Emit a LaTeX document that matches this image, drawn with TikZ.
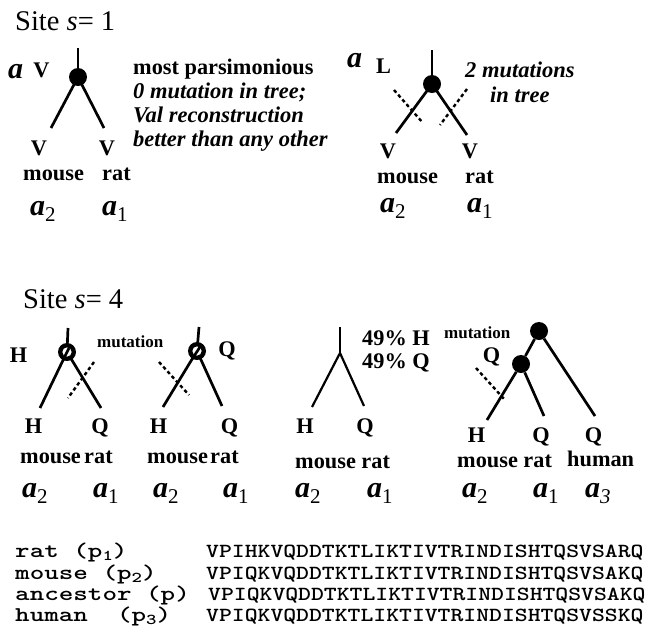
\documentclass[tikz,border=0pt]{standalone}
\usepackage{fontspec}
\setmainfont{Liberation Serif}[
  BoldFont={Liberation Serif Bold},
  ItalicFont={Liberation Serif Italic},
  BoldItalicFont={Liberation Serif Bold Italic}]
\usetikzlibrary{calc}

% variable names a, a_1, a_2 ...
\newcommand{\avar}[1]{{\fontsize{30}{30}\selectfont\bfseries\itshape a}\raisebox{-6pt}{\fontsize{21}{21}\selectfont #1}}
\newcommand{\sitehead}[1]{{\fontsize{28.5}{30}\selectfont Site \textit{s}= #1}}
\newcommand{\psub}[1]{(p\raisebox{-3pt}{\fontsize{15}{15}\selectfont #1})}
% slab-serif typewriter rows, stretched to the column width
\newcommand{\seqrow}[2]{\scalebox{#1}[1]{#2}}

\begin{document}
\begin{tikzpicture}[x=1pt,y=-1pt,
  lbl/.style={inner sep=0pt, anchor=base, font=\fontsize{22.3}{27}\selectfont\bfseries},
  lblw/.style={lbl, anchor=base west},
  itxt/.style={inner sep=0pt, anchor=base west, font=\fontsize{22.5}{27}\selectfont\bfseries\itshape},
  small/.style={inner sep=0pt, anchor=base west, font=\fontsize{17}{20}\selectfont\bfseries},
  varw/.style={inner sep=0pt, anchor=base west},
  branch/.style={line width=2.7pt},
  thinbranch/.style={line width=2.2pt},
  mutmark/.style={line width=2.4pt, dash pattern=on 3.5pt off 2.8pt},
  dot/.style={circle, fill=black, inner sep=0pt, minimum size=18pt},
  seqlbl/.style={inner sep=0pt, anchor=base west, font=\fontsize{21}{23}\selectfont\ttfamily\bfseries},
  seq/.style={inner sep=0pt, anchor=base west, font=\fontsize{20}{22}\selectfont\ttfamily\bfseries}]
\useasboundingbox (0,0) rectangle (645,638);

%% ---------------- Site s = 1 ----------------
\node[varw] (head1) at (15,30) {\sitehead{1}};

% tree: V at the root, no mutation
\coordinate (t1top) at (78,48);
\node[dot] (t1n) at (78,77) {};
\coordinate (t1l) at (51,128);
\coordinate (t1r) at (104,128);
\draw[branch] (t1top) -- (t1n.center);
\draw[branch] (t1n.center) -- (t1l);
\draw[branch] (t1n.center) -- (t1r);
\node[varw] (t1a) at (8,78) {\avar{}};
\node[lbl] (t1root) at (41.5,77) {V};
\node[lbl] (t1lv) at (39,155) {V};
\node[lbl] (t1rv) at (107,155) {V};
\node[lblw] (t1ms) at (23,180) {mouse};
\node[lblw] (t1rt) at (102,180) {rat};
\node[varw] (t1a2) at (30,215) {\avar{2}};
\node[varw] (t1a1) at (102,215) {\avar{1}};

\node[lblw] (note1) at (133,74) {most parsimonious};
\node[itxt] (note2) at (133,98) {0 mutation in tree;};
\node[itxt] (note3) at (133,122) {Val reconstruction};
\node[itxt] (note4) at (133,146) {better than any other};

% tree: L at the root, two mutations
\coordinate (t2top) at (432,50);
\node[dot] (t2n) at (432,84) {};
\coordinate (t2l) at (396,133);
\coordinate (t2r) at (467,135);
\draw[branch] (t2top) -- (t2n.center);
\draw[branch] (t2n.center) -- (t2l);
\draw[branch] (t2n.center) -- (t2r);
\coordinate (m2a) at (394,90);
\coordinate (m2b) at (423,123);
\coordinate (m2c) at (467,89);
\coordinate (m2d) at (440,125);
\draw[mutmark] (m2a) -- (m2b);
\draw[mutmark] (m2c) -- (m2d);
\node[varw] (t2a) at (347,67) {\avar{}};
\node[lbl] (t2root) at (383.5,73) {L};
\node[itxt] (t2n1) at (465,77) {2 mutations};
\node[itxt] (t2n2) at (490,102) {in tree};
\node[lbl] (t2lv) at (388,158) {V};
\node[lbl] (t2rv) at (470,158) {V};
\node[lblw] (t2ms) at (377,183) {mouse};
\node[lblw] (t2rt) at (465,183) {rat};
\node[varw] (t2a2) at (380,212) {\avar{2}};
\node[varw] (t2a1) at (467,212) {\avar{1}};

%% ---------------- Site s = 4 ----------------
\node[varw] (head4) at (23,308) {\sitehead{4}};

% tree A: H at the root, mutation on the rat branch
\coordinate (tAtop) at (68,328);
\coordinate (tAc) at (67,352);
\coordinate (tAl) at (40,408);
\coordinate (tAr) at (101,408);
\draw[branch] (tAtop) -- (tAc);
\draw[branch] (tAc) -- (tAl);
\draw[branch] (tAc) -- (tAr);
\node[dot] (tAn) at (tAc) {};
\fill[white] (tAn.center) circle (4.6pt);
\draw[branch] ($(tAn.center)+(2,-4)$) -- ($(tAn.center)!9pt!(tAl)$);
\coordinate (mAa) at (94,362);
\coordinate (mAb) at (68,398);
\draw[mutmark] (mAa) -- (mAb);
\node[lbl] (tAroot) at (18.5,362) {H};
\node[small] (tAmut) at (97,347) {mutation};
\node[lbl] (tAlv) at (33.5,433) {H};
\node[lbl] (tArv) at (100,433) {Q};
\node[lblw] (tAms) at (20,463) {mouse};
\node[lblw] (tArt) at (84,463) {rat};
\node[varw] (tAa2) at (22,497) {\avar{2}};
\node[varw] (tAa1) at (93,497) {\avar{1}};

% tree B: Q at the root, mutation on the mouse branch
\coordinate (tBtop) at (199,327);
\coordinate (tBc) at (197,351);
\coordinate (tBl) at (163,407);
\coordinate (tBr) at (222,406);
\draw[branch] (tBtop) -- (tBc);
\draw[branch] (tBc) -- (tBl);
\draw[branch] (tBc) -- (tBr);
\node[dot] (tBn) at (tBc) {};
\fill[white] (tBn.center) circle (4.6pt);
\draw[branch] ($(tBn.center)+(3,-4)$) -- ($(tBn.center)!9pt!(tBl)$);
\coordinate (mBa) at (159,362);
\coordinate (mBb) at (189,395);
\draw[mutmark] (mBa) -- (mBb);
\node[lbl] (tBroot) at (227,356) {Q};
\node[lbl] (tBlv) at (158.5,433) {H};
\node[lbl] (tBrv) at (229.5,433) {Q};
\node[lblw] (tBms) at (147,463) {mouse};
\node[lblw] (tBrt) at (210,463) {rat};
\node[varw] (tBa2) at (153,497) {\avar{2}};
\node[varw] (tBa1) at (223,497) {\avar{1}};

% tree C: root state split between H and Q
\coordinate (tCtop) at (340,327);
\coordinate (tCj) at (340,353);
\coordinate (tCl) at (312,407);
\coordinate (tCr) at (364,406);
\draw[thinbranch] (tCtop) -- (tCj);
\draw[thinbranch] (tCj) -- (tCl);
\draw[thinbranch] (tCj) -- (tCr);
\node[lblw] (tCp1) at (362,345) {49\% H};
\node[lblw] (tCp2) at (362,368) {49\% Q};
\node[lbl] (tClv) at (305,433) {H};
\node[lbl] (tCrv) at (365,433) {Q};
\node[lblw] (tCmr) at (295,468) {mouse rat};
\node[varw] (tCa2) at (295,497) {\avar{2}};
\node[varw] (tCa1) at (367,497) {\avar{1}};

% tree D: three species, mutation on the mouse branch
\node[dot] (tDtop) at (539,331) {};
\node[dot] (tDin) at (521,364) {};
\coordinate (tDl) at (487,420);
\coordinate (tDm) at (544,416);
\coordinate (tDr) at (595,416);
\draw[branch] (tDtop) -- (tDin);
\draw[branch] (tDtop) -- (tDr);
\draw[branch] (tDin) -- (tDl);
\draw[branch] (tDin) -- (tDm);
\coordinate (mDa) at (476,368);
\coordinate (mDb) at (505,400);
\draw[mutmark] (mDa) -- (mDb);
\node[small] (tDmut) at (444,338) {mutation};
\node[lbl] (tDq) at (491.5,362) {Q};
\node[lbl] (tDlv) at (476.5,442) {H};
\node[lbl] (tDmv) at (541,442) {Q};
\node[lbl] (tDrv) at (593.5,442) {Q};
\node[lblw] (tDmr) at (457,467) {mouse rat};
\node[lblw] (tDhu) at (567,466) {human};
\node[varw] (tDa2) at (462,497) {\avar{2}};
\node[varw] (tDa1) at (533,497) {\avar{1}};
\node[varw] (tDa3) at (585,497) {\avar{\textit{3}}};

%% ---------------- sequences ----------------
\node[seqlbl] (s1l) at (15,557) {\seqrow{1.32}{rat \psub{1}}};
\node[seqlbl] (s2l) at (15,579) {\seqrow{1.32}{mouse \psub{2}}};
\node[seqlbl] (s3l) at (15,600) {\seqrow{1.32}{ancestor (p)}};
\node[seqlbl] (s4l) at (15,621) {\seqrow{1.32}{human\ \ \psub{3}}};
\node[seq] (s1) at (206,557) {\seqrow{1.225}{VPIHKVQDDTKTLIKTIVTRINDISHTQSVSARQ}};
\node[seq] (s2) at (206,579) {\seqrow{1.225}{VPIQKVQDDTKTLIKTIVTRINDISHTQSVSAKQ}};
\node[seq] (s3) at (208,600) {\seqrow{1.225}{VPIQKVQDDTKTLIKTIVTRINDISHTQSVSAKQ}};
\node[seq] (s4) at (206,621) {\seqrow{1.225}{VPIQKVQDDTKTLIKTIVTRINDISHTQSVSSKQ}};
\end{tikzpicture}
\end{document}
